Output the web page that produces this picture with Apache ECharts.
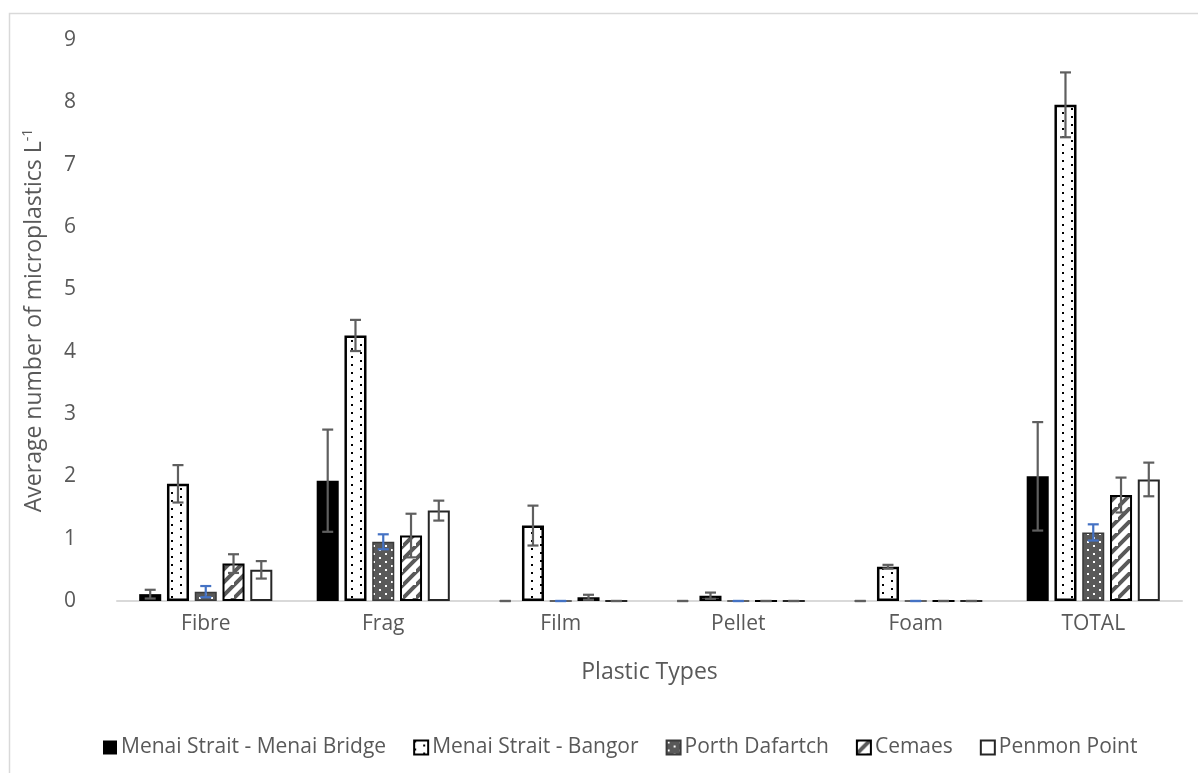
<!DOCTYPE html>
<html>
<head>
<meta charset="utf-8">
<script src="https://cdn.jsdelivr.net/npm/echarts@6/dist/echarts.min.js"></script>
<style>
html,body{margin:0;padding:0;background:#fff;}
#chart{width:1198px;height:773px;}
</style>
</head>
<body>
<div id="chart"></div>
<script>
// ---- data ----
const categories = ['Fibre', 'Frag', 'Film', 'Pellet', 'Foam', 'TOTAL'];
const seriesNames = ['Menai Strait - Menai Bridge', 'Menai Strait - Bangor', 'Porth Dafartch', 'Cemaes', 'Penmon Point'];
const menaiBridge    = [0.11, 1.93, 0,    0,     0,    2.00];
const menaiBridgeErr = [0.07, 0.82, 0,    0,     0,    0.87];
const bangor         = [1.88, 4.26, 1.21, 0.085, 0.55, 7.96];
const bangorErr      = [0.30, 0.25, 0.32, 0.05,  0.03, 0.52];
const porth          = [0.15, 0.95, 0,    0,     0,    1.10];
const porthErr       = [0.09, 0.12, 0,    0,     0,    0.13];
const cemaes         = [0.60, 1.05, 0.06, 0,     0,    1.70];
const cemaesErr      = [0.15, 0.35, 0.04, 0,     0,    0.28];
const penmon         = [0.50, 1.45, 0,    0,     0,    1.95];
const penmonErr      = [0.14, 0.16, 0,    0,     0,    0.27];
const yTicks = [0, 1, 2, 3, 4, 5, 6, 7, 8, 9];

// ---- patterns ----
function tile(w, h, draw) {
  const c = document.createElement('canvas');
  c.width = w; c.height = h;
  const ctx = c.getContext('2d');
  draw(ctx, w, h);
  return { image: c, repeat: 'repeat' };
}
const dotsPattern = tile(18, 8, (ctx, w, h) => {
  ctx.fillStyle = '#fff'; ctx.fillRect(0, 0, w, h);
  ctx.fillStyle = '#000';
  ctx.fillRect(0, 0, 2, 2);
  ctx.fillRect(9, 4, 2, 2);
});
const darkDotsPattern = tile(12, 8, (ctx, w, h) => {
  ctx.fillStyle = '#595959'; ctx.fillRect(0, 0, w, h);
  ctx.fillStyle = '#fff';
  ctx.fillRect(1, 1, 2, 2);
  ctx.fillRect(7, 5, 2, 2);
});
const stripePattern = tile(13, 13, (ctx, w, h) => {
  ctx.fillStyle = '#fff'; ctx.fillRect(0, 0, w, h);
  ctx.strokeStyle = '#595959'; ctx.lineWidth = 4;
  ctx.beginPath();
  ctx.moveTo(-2, h + 2); ctx.lineTo(w + 2, -2);
  ctx.moveTo(-2 - w, h + 2); ctx.lineTo(2, -2);
  ctx.moveTo(w - 2, 2 * h + 2); ctx.lineTo(2 * w + 2, h - 2);
  ctx.stroke();
});

const values = [menaiBridge, bangor, porth, cemaes, penmon];
const errs = [menaiBridgeErr, bangorErr, porthErr, cemaesErr, penmonErr];
const styles = [
  { color: '#000000', borderColor: '#000000', borderWidth: 0 },
  { color: dotsPattern, borderColor: '#000000', borderWidth: 2.5 },
  { color: darkDotsPattern, borderColor: '#3a3a3a', borderWidth: 1.5 },
  { color: stripePattern, borderColor: '#000000', borderWidth: 2 },
  { color: '#ffffff', borderColor: '#262626', borderWidth: 2 }
];
const errColors = ['#5f5f5f', '#5f5f5f', '#4472C4', '#5f5f5f', '#5f5f5f'];

const CAT_GAP = 0.25, BAR_GAP = 0.26, N = 5;

const series = [];
values.forEach((vals, i) => {
  series.push({
    name: seriesNames[i],
    type: 'bar',
    data: vals,
    barGap: (BAR_GAP * 100) + '%',
    barCategoryGap: (CAT_GAP * 100) + '%',
    itemStyle: styles[i],
    z: 2
  });
});
values.forEach((vals, i) => {
  const data = vals.map((v, k) => [k, v - errs[i][k], v + errs[i][k]]);
  series.push({
    name: seriesNames[i] + ' error',
    type: 'custom',
    data: data,
    encode: { x: 0, y: [1, 2] },
    z: 10,
    silent: true,
    renderItem: function (params, api) {
      const xi = api.value(0);
      const lo = api.value(1), hi = api.value(2);
      const band = api.size([1, 0])[0];
      const usable = band * (1 - CAT_GAP);
      const bw = usable / (N + (N - 1) * BAR_GAP);
      const total = bw * N + bw * BAR_GAP * (N - 1);
      const c0 = api.coord([xi, 0])[0];
      const cx = c0 - total / 2 + i * bw * (1 + BAR_GAP) + bw / 2;
      const yh = api.coord([xi, hi])[1];
      const yl = api.coord([xi, lo])[1];
      const cap = 5.5;
      const st = { stroke: errColors[i], lineWidth: 2.2 };
      return {
        type: 'group',
        children: [
          { type: 'line', shape: { x1: cx, y1: yh, x2: cx, y2: yl }, style: st },
          { type: 'line', shape: { x1: cx - cap, y1: yh, x2: cx + cap, y2: yh }, style: st },
          { type: 'line', shape: { x1: cx - cap, y1: yl, x2: cx + cap, y2: yl }, style: st }
        ]
      };
    }
  });
});

const FONT = '"Open Sans", "Noto Sans", sans-serif';
const chart = echarts.init(document.getElementById('chart'));
chart.setOption({
  animation: false,
  backgroundColor: '#ffffff',
  textStyle: { fontFamily: FONT },
  graphic: [{
    type: 'rect',
    left: 7, top: 11,
    shape: { x: 0, y: 0, width: 1300, height: 900 },
    style: { fill: 'none', stroke: '#d9d9d9', lineWidth: 1.5 },
    silent: true
  }],
  grid: { left: 117, right: 16, top: 40, bottom: 172, containLabel: false },
  legend: {
    data: seriesNames,
    left: 98,
    top: 732,
    itemWidth: 14,
    itemHeight: 14,
    itemGap: 27,
    icon: 'rect',
    selectedMode: false,
    textStyle: { color: '#595959', fontSize: 21, fontFamily: FONT, padding: [0, 0, 0, -1] }
  },
  xAxis: {
    type: 'category',
    data: categories,
    name: 'Plastic Types',
    nameLocation: 'middle',
    nameGap: 60,
    nameTextStyle: { color: '#595959', fontSize: 23, fontFamily: FONT },
    axisLine: { show: true, lineStyle: { color: '#d9d9d9', width: 2 } },
    axisTick: { show: false },
    axisLabel: { color: '#595959', fontSize: 21, fontFamily: FONT, margin: 13 }
  },
  yAxis: {
    type: 'value',
    min: yTicks[0],
    max: yTicks[yTicks.length - 1],
    interval: 1,
    name: 'Average number of microplastics L{sup|-1}',
    nameLocation: 'middle',
    nameGap: 70,
    nameTextStyle: {
      color: '#595959', fontSize: 23, fontFamily: FONT,
      rich: { sup: { fontSize: 14, color: '#595959', fontFamily: FONT, verticalAlign: 'top', padding: [0, 0, 12, 0] } }
    },
    axisLine: { show: false },
    axisTick: { show: false },
    splitLine: { show: false },
    axisLabel: { color: '#595959', fontSize: 21, fontFamily: FONT, margin: 41 }
  },
  series: series
});
</script>
</body>
</html>
